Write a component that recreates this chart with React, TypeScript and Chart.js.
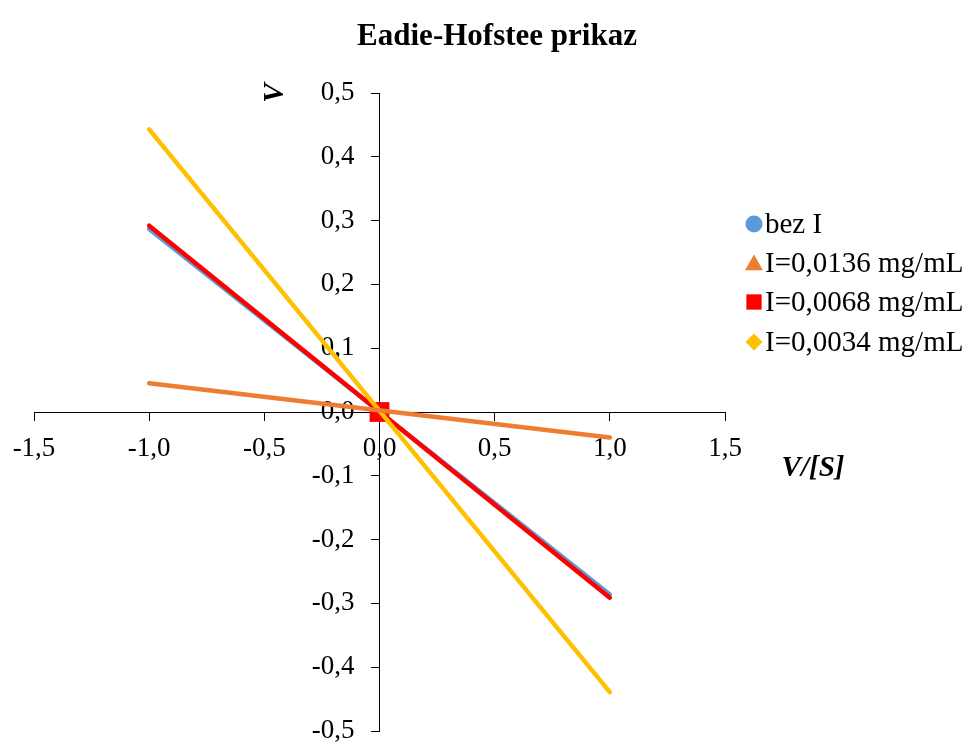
import React, { useEffect, useRef } from 'react';
import { Chart, registerables } from 'chart.js';

Chart.register(...registerables);

// ---- data ----
const chartTitle = 'Eadie-Hofstee prikaz';
const xAxisTitle = 'V/[S]';
const yAxisTitle = 'V';

const seriesLabels = ['bez I', 'I=0,0136 mg/mL', 'I=0,0068 mg/mL', 'I=0,0034 mg/mL'];
const seriesColors = ['#5B9BD5', '#ED7D31', '#FF0000', '#FFC000'];
const seriesPointStyles = ['circle', 'triangle', 'rect', 'rectRot'];

// measured points (all collapse at the origin at this scale)
const pointX = [0, 0, 0, 0];
const pointY = [0, 0, 0, 0];

// linear trendlines, drawn between x = -1 and x = 1
const trendX = [-1, 1];
const trendBezI = [0.287, -0.286];
const trend0136 = [0.045, -0.04];
const trend0068 = [0.292, -0.291];
const trend0034 = [0.443, -0.439];
const trendValues = [trendBezI, trend0136, trend0068, trend0034];

const xMin = -1.5;
const xMax = 1.5;
const xStep = 0.5;
const yMin = -0.5;
const yMax = 0.5;
const yStep = 0.1;

const fmt = (v: number) => {
  const n = Math.abs(v) < 1e-9 ? 0 : v;
  return n.toFixed(1).replace('.', ',');
};

const FONT = '"Liberation Serif", "Times New Roman", serif';

const drawMarker = (ctx: CanvasRenderingContext2D, style: string, x: number, y: number, r: number, color: string) => {
  ctx.save();
  ctx.fillStyle = color;
  ctx.beginPath();
  if (style === 'circle') {
    ctx.arc(x, y, r, 0, Math.PI * 2);
  } else if (style === 'triangle') {
    ctx.moveTo(x, y - r);
    ctx.lineTo(x + r * 1.05, y + r * 0.85);
    ctx.lineTo(x - r * 1.05, y + r * 0.85);
    ctx.closePath();
  } else if (style === 'rect') {
    ctx.rect(x - r * 0.9, y - r * 0.9, r * 1.8, r * 1.8);
  } else {
    ctx.moveTo(x, y - r);
    ctx.lineTo(x + r, y);
    ctx.lineTo(x, y + r);
    ctx.lineTo(x - r, y);
    ctx.closePath();
  }
  ctx.fill();
  ctx.restore();
};

// y-axis sits at x = 0; Chart.js ignores tick padding there, so shift its labels left
const yLabelShift = 25;

const textPlugin = {
  id: 'customText',
  beforeDraw(chart: any) {
    const yScale = chart.scales.y;
    if (yScale && yScale.getLabelItems) {
      const items = yScale.getLabelItems();
      items.forEach((it: any) => {
        if (!it.__shifted) {
          it.options.translation[0] -= yLabelShift;
          it.__shifted = true;
        }
      });
    }
  },
  afterDraw(chart: any) {
    const ctx: CanvasRenderingContext2D = chart.ctx;
    ctx.save();
    ctx.fillStyle = '#000';
    // title
    ctx.font = `bold 31px ${FONT}`;
    ctx.textAlign = 'center';
    ctx.textBaseline = 'alphabetic';
    ctx.fillText(chartTitle, 497, 45);
    // y axis title (rotated)
    ctx.save();
    ctx.translate(276, 93);
    ctx.rotate(-Math.PI / 2);
    ctx.font = `italic bold 29px ${FONT}`;
    ctx.textAlign = 'center';
    ctx.textBaseline = 'middle';
    ctx.fillText(yAxisTitle, 0, 0);
    ctx.restore();
    // x axis title
    ctx.font = `italic bold 29px ${FONT}`;
    ctx.textAlign = 'center';
    ctx.textBaseline = 'middle';
    ctx.fillText(xAxisTitle, 813, 469);
    // legend
    const rows = [224, 263, 302, 342];
    ctx.font = `29px ${FONT}`;
    ctx.textAlign = 'left';
    ctx.textBaseline = 'middle';
    seriesLabels.forEach((label, i) => {
      drawMarker(ctx, seriesPointStyles[i], 754, rows[i], 8.5, seriesColors[i]);
      ctx.fillStyle = '#000';
      ctx.fillText(label, 765, rows[i] + 1);
    });
    ctx.restore();
  },
};

export default function App() {
  const canvasRef = useRef<HTMLCanvasElement | null>(null);

  useEffect(() => {
    if (!canvasRef.current) return;
    const lineOrder = [4, 1, 3, 2];
    const markerOrder = [13, 12, 10, 11];
    const lineDatasets = seriesLabels.map((label, i) => ({
      label: label + ' trend',
      data: trendX.map((x, k) => ({ x, y: trendValues[i][k] })),
      showLine: true,
      borderColor: seriesColors[i],
      backgroundColor: seriesColors[i],
      borderWidth: 4.5,
      pointRadius: 0,
      borderCapStyle: 'round' as const,
      order: lineOrder[i],
    }));
    const markerDatasets = seriesLabels.map((label, i) => ({
      label,
      data: [{ x: pointX[i], y: pointY[i] }],
      showLine: false,
      pointStyle: seriesPointStyles[i],
      pointRadius: i === 2 ? 14 : 9,
      pointBackgroundColor: seriesColors[i],
      pointBorderColor: seriesColors[i],
      pointBorderWidth: 0,
      order: markerOrder[i],
    }));

    const axisCommon = {
      type: 'linear' as const,
      grid: {
        drawOnChartArea: false,
        drawTicks: true,
        tickLength: 8,
        color: '#000',
        tickColor: '#000',
        tickWidth: 1,
      },
      border: { display: true, color: '#000', width: 1 },
      afterFit: (scale: any) => {
        scale.paddingTop = 0;
        scale.paddingBottom = 0;
        scale.paddingLeft = 0;
        scale.paddingRight = 0;
      },
    };

    const chart = new Chart(canvasRef.current, {
      type: 'scatter',
      data: { datasets: [...lineDatasets, ...markerDatasets] as any },
      options: {
        animation: false,
        responsive: false,
        maintainAspectRatio: false,
        layout: { padding: { left: 34, right: 247, top: 93, bottom: 12 } },
        plugins: {
          legend: { display: false },
          tooltip: { enabled: false },
          title: { display: false },
        },
        scales: {
          x: {
            ...axisCommon,
            position: { y: 0 } as any,
            min: xMin,
            max: xMax,
            ticks: {
              stepSize: xStep,
              color: '#000',
              font: { family: FONT, size: 27 },
              padding: 13,
              maxRotation: 0,
              autoSkip: false,
              callback: (v: any) => fmt(Number(v)),
            },
          },
          y: {
            ...axisCommon,
            position: { x: 0 } as any,
            min: yMin,
            max: yMax,
            ticks: {
              stepSize: yStep,
              color: '#000',
              font: { family: FONT, size: 27 },
              padding: 17,
              autoSkip: false,
              callback: (v: any) => fmt(Number(v)),
            },
          },
        },
      },
      plugins: [textPlugin],
    });
    return () => chart.destroy();
  }, []);

  return (
    <div style={{ position: 'absolute', left: 0, top: 0, width: 972, height: 745, background: '#fff' }}>
      <canvas ref={canvasRef} width={972} height={745} style={{ display: 'block', width: 972, height: 745 }} />
    </div>
  );
}
